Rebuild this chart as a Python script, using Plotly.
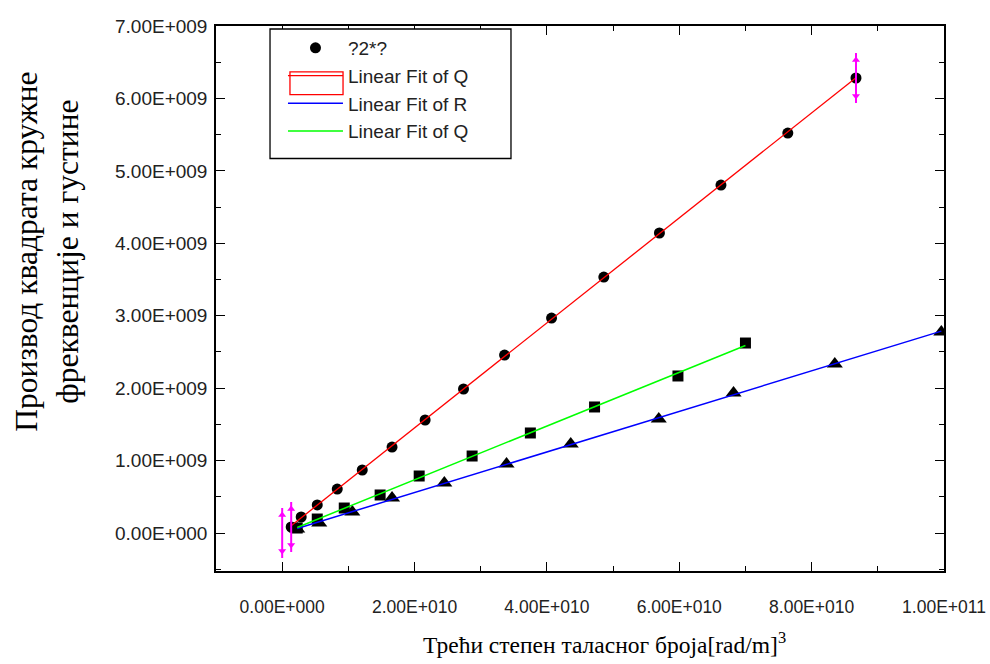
import numpy as np
import plotly.graph_objects as go

# ---- data ----
circ_x = [1.36e9, 2.87e9, 5.30e9, 8.32e9, 1.21e10, 1.66e10, 2.16e10, 2.74e10,
          3.36e10, 4.07e10, 4.86e10, 5.70e10, 6.63e10, 7.64e10, 8.67e10]
circ_y = [0.083e9, 0.221e9, 0.387e9, 0.607e9, 0.870e9, 1.187e9, 1.560e9, 1.988e9,
          2.457e9, 2.968e9, 3.534e9, 4.142e9, 4.804e9, 5.522e9, 6.282e9]
sq_x = [2.27e9, 5.30e9, 9.38e9, 1.48e10, 2.07e10, 2.87e10, 3.75e10, 4.72e10, 5.98e10, 7.00e10]
sq_y = [0.069e9, 0.193e9, 0.345e9, 0.525e9, 0.787e9, 1.063e9, 1.381e9, 1.740e9, 2.168e9, 2.623e9]
tri_x = [2.27e9, 5.60e9, 1.06e10, 1.66e10, 2.45e10, 3.39e10, 4.36e10, 5.69e10, 6.82e10, 8.35e10, 9.96e10]
tri_y = [0.055e9, 0.138e9, 0.290e9, 0.483e9, 0.690e9, 0.952e9, 1.229e9, 1.574e9, 1.933e9, 2.333e9, 2.775e9]

err_x = [0.0, 1.36e9, 8.67e10]
err_y = [0.0, 0.083e9, 6.282e9]
err_v = [0.345e9, 0.345e9, 0.345e9]

x_tickvals = [0, 2e10, 4e10, 6e10, 8e10, 1e11]
x_ticktext = ["0.00E+000", "2.00E+010", "4.00E+010", "6.00E+010", "8.00E+010", "1.00E+011"]
y_tickvals = [0, 1e9, 2e9, 3e9, 4e9, 5e9, 6e9, 7e9]
y_ticktext = ["0.00E+000", "1.00E+009", "2.00E+009", "3.00E+009", "4.00E+009",
              "5.00E+009", "6.00E+009", "7.00E+009"]

names = ["?2*?", "Linear Fit of Q", "Linear Fit of R", "Linear Fit of Q"]


def fit_line(xs, ys):
    xs = np.asarray(xs)
    ys = np.asarray(ys)
    k, b = np.polyfit(xs, ys, 1)
    xl = np.linspace(xs.min(), xs.max(), 50)
    return xl, k * xl + b


fig = go.Figure()

# markers
fig.add_trace(go.Scatter(x=circ_x, y=circ_y, mode="markers", name=names[0],
                         marker=dict(symbol="circle", size=11, color="black"),
                         legendrank=1))
fig.add_trace(go.Scatter(x=sq_x, y=sq_y, mode="markers", showlegend=False,
                         marker=dict(symbol="square", size=11, color="black")))
fig.add_trace(go.Scatter(x=tri_x, y=tri_y, mode="markers", showlegend=False,
                         marker=dict(symbol="triangle-up", size=14, color="black")))

# fit lines
xl, yl = fit_line(circ_x, circ_y)
fig.add_trace(go.Scatter(x=xl, y=yl, mode="lines", name=names[1],
                         line=dict(color="#ff0000", width=1.3), legendrank=2))
xl, yl = fit_line(tri_x, tri_y)
fig.add_trace(go.Scatter(x=xl, y=yl, mode="lines", name=names[2],
                         line=dict(color="#0000ff", width=1.5), legendrank=3))
xl, yl = fit_line(sq_x, sq_y)
fig.add_trace(go.Scatter(x=xl, y=yl, mode="lines", name=names[3],
                         line=dict(color="#00ff00", width=1.5), legendrank=4))

# error bars (magenta, arrow-like ends)
fig.add_trace(go.Scatter(x=err_x, y=err_y, mode="markers", showlegend=False,
                         marker=dict(size=1, color="rgba(0,0,0,0)"),
                         error_y=dict(type="data", array=err_v, color="#ff00ff",
                                      thickness=2, width=0)))
ex = np.asarray(err_x)
ey = np.asarray(err_y)
ev = np.asarray(err_v)
fig.add_trace(go.Scatter(x=ex, y=ey + 0.72 * ev, mode="markers", showlegend=False,
                         marker=dict(symbol="triangle-up", size=7, color="#ff00ff")))
fig.add_trace(go.Scatter(x=ex, y=ey - 0.72 * ev, mode="markers", showlegend=False,
                         marker=dict(symbol="triangle-down", size=7, color="#ff00ff")))

axis_common = dict(showgrid=False, zeroline=False, showline=True, linecolor="black",
                   linewidth=1.5, mirror="allticks", ticks="inside", ticklen=9,
                   tickwidth=1.3, tickcolor="black", automargin=False,
                   ticklabeloverflow="allow")

fig.update_layout(
    width=990, height=664,
    margin=dict(l=216, r=46, t=26, b=93),
    plot_bgcolor="white", paper_bgcolor="white",
    xaxis=dict(range=[-1e10, 1e11], tickmode="array", tickvals=x_tickvals,
               ticktext=x_ticktext, ticklabelstandoff=19,
               tickfont=dict(family="Liberation Sans", size=17.5, color="#222"),
               minor=dict(ticks="inside", ticklen=5, tickwidth=1.3, tickcolor="black",
                          tick0=0, dtick=1e10),
               **axis_common),
    yaxis=dict(range=[-0.5246e9, 7e9], tickmode="array", tickvals=y_tickvals,
               ticktext=y_ticktext, ticklabelstandoff=3,
               tickfont=dict(family="Liberation Sans", size=19, color="#222"),
               minor=dict(ticks="inside", ticklen=5, tickwidth=1.3, tickcolor="black",
                          tick0=0, dtick=0.5e9),
               **axis_common),
    legend=dict(x=0.092, y=0.9945, xanchor="left", yanchor="top",
                bgcolor="rgba(0,0,0,0)", borderwidth=0,
                font=dict(family="Liberation Sans", size=19, color="#222"),
                itemwidth=55, tracegroupgap=0),
    showlegend=True,
    shapes=[
        # legend frame
        dict(type="rect", xref="paper", yref="paper", x0=0.0742, x1=0.4052,
             y0=0.7569, y1=0.9945, line=dict(color="black", width=1.3),
             fillcolor="white", layer="above"),
        # selection box around the red legend symbol
        dict(type="rect", xref="paper", yref="paper", x0=0.1016, x1=0.1745,
             y0=0.8739, y1=0.9159, line=dict(color="#ff0000", width=1.3),
             fillcolor="rgba(0,0,0,0)", layer="above"),
    ],
    annotations=[
        dict(text="Производ квадрата кружне<br>фреквенције и густине",
             textangle=-90, xref="paper", yref="paper", x=0, y=0.585,
             xanchor="center", yanchor="middle", xshift=-168.5, showarrow=False,
             font=dict(family="Liberation Serif", size=31.5, color="black")),
        dict(text="Трећи степен таласног броја[rad/m]<sup>3</sup>",
             xref="paper", yref="paper", x=0.533, y=-0.1316,
             xanchor="center", yanchor="middle", showarrow=False,
             font=dict(family="Liberation Serif", size=23.5, color="black")),
    ],
)

fig.write_html("out.html")
